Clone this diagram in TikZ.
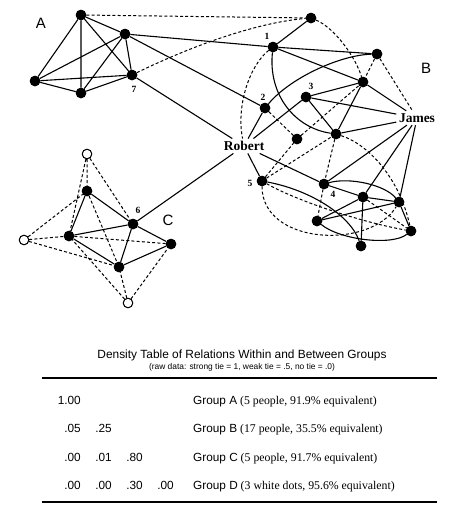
\documentclass[tikz,border=0pt]{standalone}
\usepackage{fontspec}
\setmainfont{Liberation Serif}
\setsansfont{Liberation Sans}
\begin{document}
\begin{tikzpicture}[x=1pt,y=-1pt,
  dot/.style={circle,fill=black,inner sep=0pt,minimum size=10.5pt},
  wdot/.style={circle,draw=black,fill=white,line width=0.9pt,inner sep=0pt,minimum size=9.5pt},
  tie/.style={line width=1.1pt},
  wtie/.style={line width=1pt,dash pattern=on 3pt off 2.2pt},
  pname/.style={font=\bfseries\fontsize{13.5}{14}\selectfont,inner sep=2.5pt},
  num/.style={font=\bfseries\fontsize{9.5}{10}\selectfont,inner sep=0pt},
  grp/.style={font=\sffamily\fontsize{15}{16}\selectfont,inner sep=0pt},
  val/.style={font=\sffamily\fontsize{11.8}{12}\selectfont,anchor=base east,inner sep=0pt},
  glabel/.style={font=\fontsize{11.8}{12}\selectfont,anchor=base west,inner sep=0pt},
  rule/.style={line width=1.1pt}
]
\useasboundingbox (0,0) rectangle (450,509);
% group A
\node[dot] (A1) at (81,15) {};
\node[dot] (A2) at (125,34) {};
\node[dot] (A3) at (35,81) {};
\node[dot] (A4) at (81,93) {};
\node[dot] (A7) at (132,75) {};
\node[grp] (LA) at (41,23) {A};
\node[num] (n7) at (134,89) {7};
% group B
\node[dot] (Bt) at (311,18) {};
\node[dot] (B1) at (273,47) {};
\node[dot] (Br) at (377,54) {};
\node[dot] (Bm) at (363,82) {};
\node[dot] (B3) at (306,97) {};
\node[dot] (B2) at (265,108) {};
\node[dot] (Bd) at (297,139) {};
\node[dot] (Bc) at (336,134) {};
\node[dot] (B5) at (262,181) {};
\node[dot] (B4) at (324,184) {};
\node[dot] (Bx) at (363,197) {};
\node[dot] (By) at (399,202) {};
\node[dot] (Bz) at (317,221) {};
\node[dot] (Bw) at (411,231) {};
\node[dot] (Bv) at (361,246) {};
\node[pname] (Rob) at (244,146) {Robert};
\node[pname] (Jam) at (417,118) {James};
\node[grp] (LB) at (426,68) {B};
\node[num] (n1) at (267,36) {1};
\node[num] (n2) at (263,97) {2};
\node[num] (n3) at (311,86) {3};
\node[num] (n4) at (333,194) {4};
\node[num] (n5) at (250,183) {5};
% group C
\node[dot] (Ct) at (87,191) {};
\node[dot] (C6) at (133,224) {};
\node[dot] (Cl) at (69,236) {};
\node[dot] (Cr) at (171,244) {};
\node[dot] (Cb) at (119,267) {};
\node[wdot] (Wt) at (87,154) {};
\node[wdot] (Wl) at (24,240) {};
\node[wdot] (Wb) at (128,303) {};
\node[grp] (LC) at (168,220) {C};
\node[num] (n6) at (138,210) {6};
% A ties
\draw[tie] (A1)--(A2) (A1)--(A3) (A1)--(A4) (A1)--(A7) (A2)--(A3)
  (A2)--(A4) (A2)--(A7) (A3)--(A4) (A3)--(A7) (A4)--(A7);
% between groups
\draw[wtie] (A1)--(Bt);
\draw[wtie] (A7) .. controls (200,42) and (262,22) .. (Bt);
\draw[tie] (A2)--(B1) (A2)--(B2) (A7)--(Rob) (C6)--(Rob);
% B strong ties
\draw[tie] (Bt)--(B1) (B1)--(Br) (B1)--(Bm)
  (B2)--(Rob) (B3)--(Rob) (B3)--(Bm) (B3)--(Jam) (B3)--(Bc)
  (Bm)--(Jam) (Bm)--(Bc) (Bc)--(Jam)
  (Rob)--(B5) (Rob)--(B4) (Jam)--(B4) (Jam)--(Bx) (Jam)--(By)
  (B4)--(Bx) (Bx)--(By) (Bx)--(Bz) (By)--(Bz) (Bx)--(Bv) (By)--(Bw);
\draw[tie] (B1) .. controls (268,95) and (295,128) .. (Bc);
\draw[tie] (B2) .. controls (290,78) and (340,55) .. (Br);
\draw[tie] (B4) .. controls (350,177) and (385,185) .. (By);
\draw[tie] (Bz) .. controls (340,240) and (392,246) .. (Bw);
\draw[tie] (B5) .. controls (310,190) and (350,215) .. (Bv);
% B weak ties
\draw[wtie] (B1) .. controls (250,65) and (236,105) .. (Rob);
\draw[wtie] (Bt) .. controls (335,28) and (356,58) .. (Bm);
\draw[wtie] (Br)--(Bm) (Br)--(Jam) (B2)--(Bd) (Bd)--(Bm) (B5)--(Bd)
  (B5)--(Bc) (Bc)--(B4) (B4)--(Bz) (Bx)--(Bw);
\draw[wtie] (Bc) .. controls (370,145) and (400,180) .. (Bw);
\draw[wtie] (B5) .. controls (295,200) and (360,222) .. (Bw);
\draw[wtie] (B5) .. controls (262,245) and (370,250) .. (By);
% C ties
\draw[tie] (Ct)--(Cl) (Ct)--(C6) (Cl)--(C6) (Cl)--(Cb) (C6)--(Cb) (C6)--(Cr) (Cr)--(Cb);
\draw[wtie] (Cl)--(Cr) (Ct)--(Cb) (Wt)--(Ct) (Wt)--(Cl) (Wt)--(C6)
  (Wl)--(Ct) (Wl)--(Cl) (Wl)--(Cb) (Wb)--(Cl) (Wb)--(Cb) (Wb)--(Cr);
% redraw dots on top
\foreach \n in {A1,A2,A3,A4,A7,Bt,B1,Br,Bm,B3,B2,Bd,Bc,B5,B4,Bx,By,Bz,Bw,Bv,Ct,C6,Cl,Cr,Cb}
  \fill (\n) circle (5.25pt);
\foreach \n in {Wt,Wl,Wb}
  \draw[line width=0.9pt,fill=white] (\n) circle (4.75pt);
% table
\node[font=\sffamily\fontsize{11.9}{12}\selectfont,inner sep=0pt] (T1) at (242,355) {Density Table of Relations Within and Between Groups};
\node[font=\sffamily\fontsize{8.4}{9}\selectfont,inner sep=0pt] (T2) at (242,367) {(raw data: strong tie = 1, weak tie = .5, no tie = .0)};
\coordinate (R1a) at (42,378); \coordinate (R1b) at (437,378);
\coordinate (R2a) at (42,502); \coordinate (R2b) at (437,502);
\draw[rule] (R1a)--(R1b);
\draw[rule] (R2a)--(R2b);
\node[val] (v11) at (81,404) {1.00};
\node[val] (v21) at (81,432) {.05};
\node[val] (v22) at (112,432) {.25};
\node[val] (v31) at (81,461) {.00};
\node[val] (v32) at (112,461) {.01};
\node[val] (v33) at (143,461) {.80};
\node[val] (v41) at (81,489) {.00};
\node[val] (v42) at (112,489) {.00};
\node[val] (v43) at (143,489) {.30};
\node[val] (v44) at (174,489) {.00};
\node[glabel] (gA) at (193,404) {{\sffamily Group A} (5 people, 91.9\% equivalent)};
\node[glabel] (gB) at (193,432) {{\sffamily Group B} (17 people, 35.5\% equivalent)};
\node[glabel] (gC) at (193,461) {{\sffamily Group C} (5 people, 91.7\% equivalent)};
\node[glabel] (gD) at (193,489) {{\sffamily Group D} (3 white dots, 95.6\% equivalent)};
\end{tikzpicture}
\end{document}
